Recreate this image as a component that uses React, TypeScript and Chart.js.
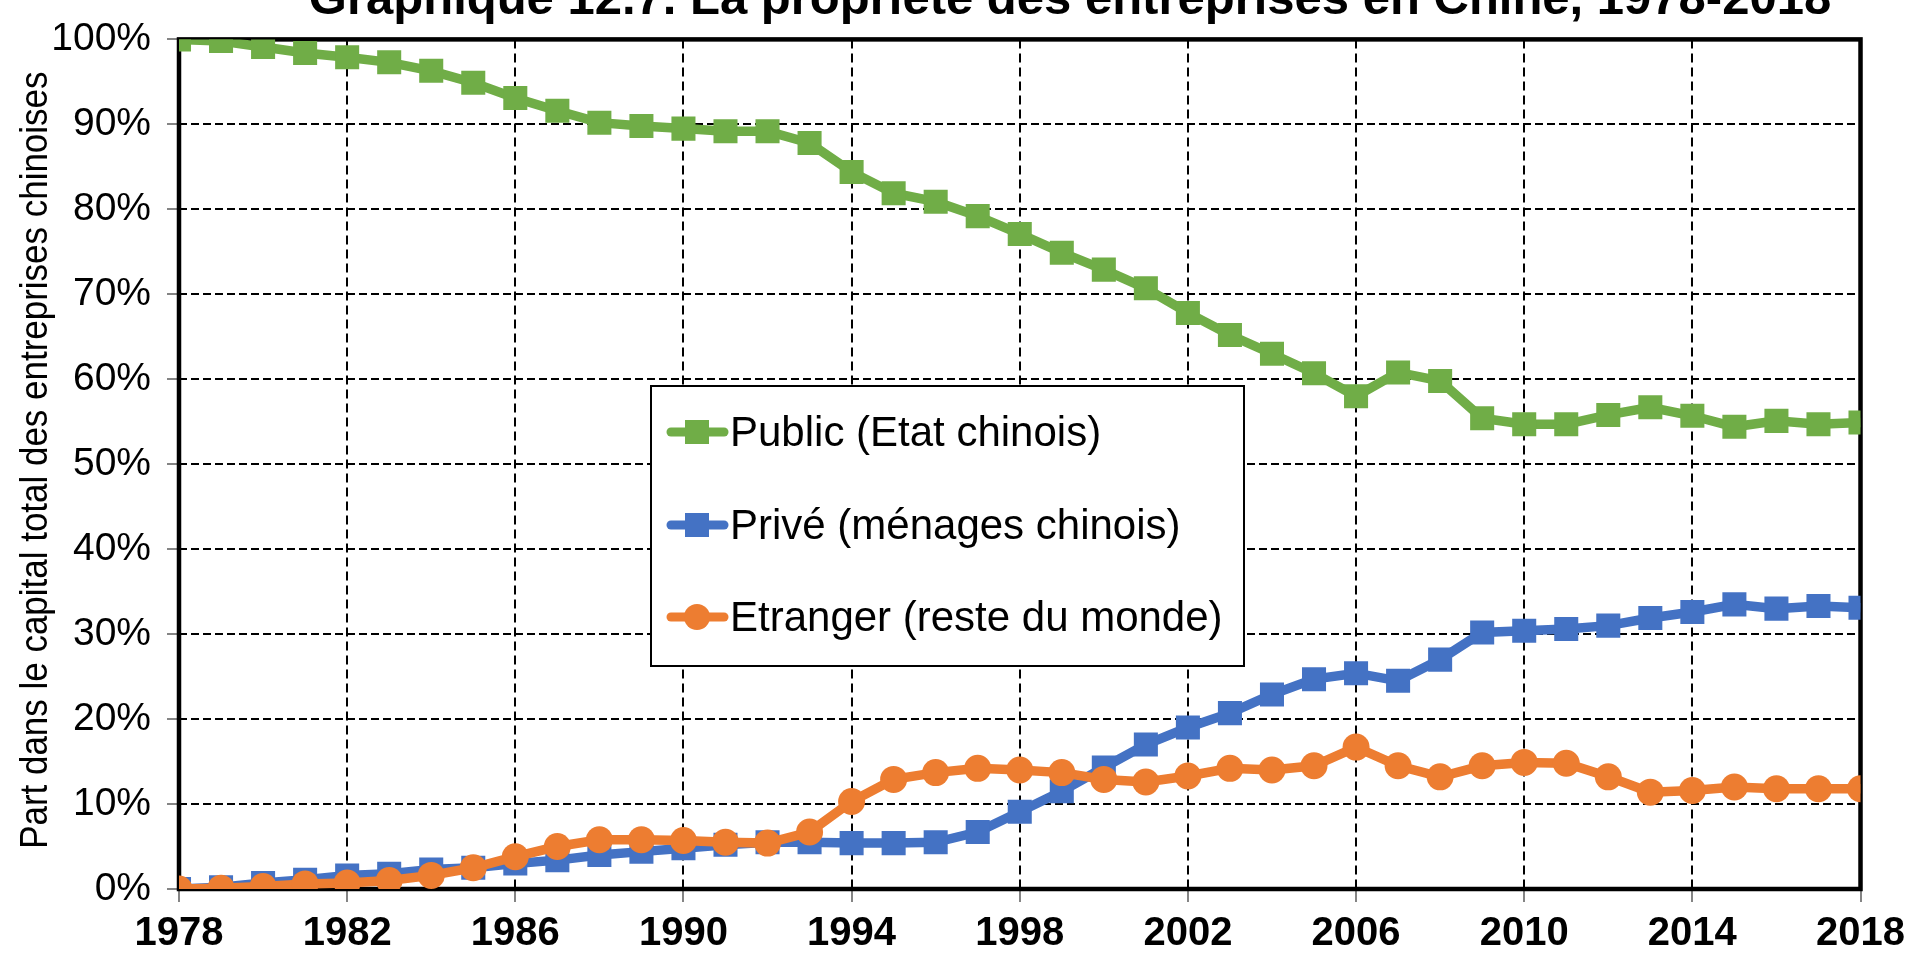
import React, { useEffect, useRef } from 'react';
import { Chart, registerables } from 'chart.js';

Chart.register(...registerables);

const chartTitle = 'Graphique 12.7. La propriété des entreprises en Chine, 1978-2018';
const yAxisTitle = 'Part dans le capital total des entreprises chinoises';
const seriesLabels = ['Public (Etat chinois)', 'Privé (ménages chinois)', 'Etranger (reste du monde)'];
const seriesColors = ['#70AD47', '#4472C4', '#ED7D31'];

const years = [
  1978, 1979, 1980, 1981, 1982, 1983, 1984, 1985, 1986, 1987,
  1988, 1989, 1990, 1991, 1992, 1993, 1994, 1995, 1996, 1997,
  1998, 1999, 2000, 2001, 2002, 2003, 2004, 2005, 2006, 2007,
  2008, 2009, 2010, 2011, 2012, 2013, 2014, 2015, 2016, 2017, 2018,
];

const publicShare = [
  100, 99.8, 99.1, 98.4, 97.9, 97.3, 96.3, 94.9, 93.1, 91.6,
  90.2, 89.8, 89.5, 89.2, 89.2, 87.8, 84.4, 81.9, 80.9, 79.2,
  77.1, 74.9, 72.9, 70.7, 67.8, 65.2, 63.0, 60.7, 58.0, 60.8,
  59.8, 55.4, 54.7, 54.7, 55.8, 56.7, 55.7, 54.4, 55.1, 54.7, 54.9,
];

const priveShare = [
  0, 0.2, 0.7, 1.1, 1.6, 1.8, 2.3, 2.5, 3.0, 3.4,
  4.0, 4.4, 4.8, 5.2, 5.5, 5.5, 5.4, 5.4, 5.5, 6.7,
  9.1, 11.5, 14.3, 17.0, 19.0, 20.7, 22.9, 24.7, 25.4, 24.5,
  27.0, 30.2, 30.4, 30.6, 31.0, 31.9, 32.6, 33.5, 33.0, 33.3, 33.1,
];

const etrangerShare = [
  0, 0.1, 0.3, 0.6, 0.7, 1.0, 1.6, 2.5, 3.8, 5.0,
  5.8, 5.8, 5.7, 5.5, 5.4, 6.7, 10.3, 12.9, 13.7, 14.2,
  14.0, 13.7, 12.9, 12.6, 13.3, 14.2, 14.0, 14.5, 16.7, 14.5,
  13.2, 14.5, 14.9, 14.8, 13.2, 11.4, 11.6, 12.0, 11.8, 11.8, 11.8,
];

const FONT = "'Liberation Sans', Arial, sans-serif";

const toPoints = (vals: number[]) => vals.map((v, i) => ({ x: years[i], y: v }));

export default function App() {
  const ref = useRef<HTMLCanvasElement | null>(null);

  useEffect(() => {
    const canvas = ref.current;
    if (!canvas) return;

    const framePlugin = {
      id: 'frame',
      beforeDatasetsDraw(chart: any) {
        const { ctx, chartArea: a } = chart;
        ctx.save();
        ctx.strokeStyle = '#000';
        ctx.lineWidth = 4.5;
        ctx.setLineDash([]);
        ctx.strokeRect(a.left, a.top, a.right - a.left, a.bottom - a.top);
        ctx.restore();
      },
    };

    const textPlugin = {
      id: 'texts',
      afterDraw(chart: any) {
        const { ctx, chartArea: a } = chart;
        ctx.save();
        ctx.font = `bold 49px ${FONT}`;
        ctx.fillStyle = '#000';
        ctx.textAlign = 'center';
        ctx.textBaseline = 'alphabetic';
        ctx.fillText(chartTitle, 1070, 14);
        ctx.restore();

        ctx.save();
        ctx.translate(47, (a.top + a.bottom) / 2 - 4);
        ctx.rotate(-Math.PI / 2);
        ctx.scale(0.92, 1);
        ctx.font = `38px ${FONT}`;
        ctx.fillStyle = '#000';
        ctx.textAlign = 'center';
        ctx.textBaseline = 'alphabetic';
        ctx.fillText(yAxisTitle, 0, 0);
        ctx.restore();
      },
    };

    const legendPlugin = {
      id: 'boxLegend',
      afterDatasetsDraw(chart: any) {
        const { ctx } = chart;
        const bx = 651, by = 386, bw = 593, bh = 280;
        ctx.save();
        ctx.fillStyle = '#fff';
        ctx.fillRect(bx, by, bw, bh);
        ctx.strokeStyle = '#000';
        ctx.lineWidth = 2;
        ctx.setLineDash([]);
        ctx.strokeRect(bx, by, bw, bh);
        const rows = [432, 525, 617];
        seriesLabels.forEach((lab, i) => {
          const y = rows[i];
          const c = seriesColors[i];
          ctx.strokeStyle = c;
          ctx.lineWidth = 9;
          ctx.lineCap = 'round';
          ctx.beginPath();
          ctx.moveTo(671, y);
          ctx.lineTo(724, y);
          ctx.stroke();
          ctx.fillStyle = c;
          if (i < 2) {
            ctx.fillRect(697 - 12, y - 12, 24, 24);
          } else {
            ctx.beginPath();
            ctx.arc(697, y, 13, 0, Math.PI * 2);
            ctx.fill();
          }
          ctx.fillStyle = '#000';
          ctx.font = `42px ${FONT}`;
          ctx.textAlign = 'left';
          ctx.textBaseline = 'middle';
          ctx.fillText(lab, 730, y + 2);
        });
        ctx.restore();
      },
    };

    const mk = (i: number, vals: number[], style: string, radius: number, order: number) => ({
      label: seriesLabels[i],
      data: toPoints(vals),
      borderColor: seriesColors[i],
      backgroundColor: seriesColors[i],
      borderWidth: 9.5,
      pointStyle: style,
      pointRadius: radius,
      pointBorderWidth: 0,
      pointBackgroundColor: seriesColors[i],
      tension: 0,
      order,
    });

    const chart = new Chart(canvas, {
      type: 'line',
      data: {
        datasets: [
          mk(0, publicShare, 'rect', 17, 2),
          mk(1, priveShare, 'rect', 17, 1),
          mk(2, etrangerShare, 'circle', 13.5, 0),
        ] as any,
      },
      options: {
        animation: false,
        responsive: false,
        maintainAspectRatio: false,
        layout: { padding: { left: 0, right: 51, top: 28, bottom: 0 } },
        plugins: {
          legend: { display: false },
          tooltip: { enabled: false },
          title: { display: false },
        },
        scales: {
          x: {
            type: 'linear',
            min: 1978,
            max: 2018,
            afterFit(scale: any) { scale.height = 68; },
            ticks: {
              stepSize: 4,
              autoSkip: false,
              maxRotation: 0,
              padding: 8,
              color: '#000',
              font: { family: FONT, size: 40, weight: 'bold' },
              callback: (v: any) => String(v),
            },
            grid: {
              color: '#000',
              lineWidth: 2,
              drawTicks: true,
              tickLength: 13,
              tickWidth: 1.2,
              tickColor: '#333',
              tickBorderDash: [],
            },
            border: { display: false, dash: [9, 5] },
          },
          y: {
            min: 0,
            max: 100,
            afterFit(scale: any) { scale.width = 179; },
            ticks: {
              stepSize: 10,
              padding: 16,
              color: '#000',
              font: { family: FONT, size: 39 },
              callback: (v: any) => `${v}%`,
            },
            grid: {
              color: '#000',
              lineWidth: 2,
              drawTicks: true,
              tickLength: 12,
              tickWidth: 1.2,
              tickColor: '#333',
              tickBorderDash: [],
            },
            border: { display: false, dash: [8, 4] },
            title: { display: false },
          },
        },
      } as any,
      plugins: [framePlugin, legendPlugin, textPlugin],
    });

    return () => chart.destroy();
  }, []);

  return (
    <div style={{ position: 'absolute', left: 0, top: 0, width: 1913, height: 957, background: '#fff' }}>
      <canvas ref={ref} width={1913} height={957} style={{ display: 'block', width: 1913, height: 957 }} />
    </div>
  );
}
